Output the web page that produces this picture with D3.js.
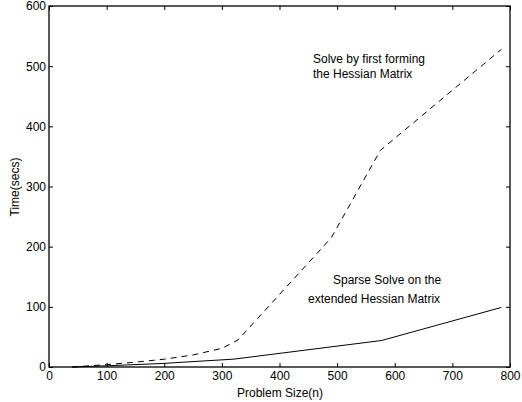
<!DOCTYPE html>
<html lang="en">
  <head>
    <meta charset="UTF-8" />
    <title>Solve time</title>
    <script src="https://d3js.org/d3.v7.min.js"></script>
    <style>
      body { margin: 0; background: #fff; }
      text { font-family: "Liberation Sans", Arial, Helvetica, sans-serif; font-size: 12px; fill: #000; }
    </style>
  </head>
  <body>
    <div id="graph"></div>
    <script>
      // problem size (n) and time in seconds
      var hessianN = [40, 100, 150, 200, 250, 300, 328, 490, 575, 785];
      var hessianT = [0, 4, 8, 13, 20, 31, 45, 215, 360, 528];
      var sparseN = [40, 100, 200, 250, 320, 577, 785];
      var sparseT = [0, 2, 6, 9, 13, 44, 99];
      var xTicks = [0, 100, 200, 300, 400, 500, 600, 700, 800];
      var yTicks = [0, 100, 200, 300, 400, 500, 600];

      var W = 522, H = 402;
      var margin = { top: 6, right: 12, bottom: 35, left: 49 },
        width = W - margin.left - margin.right,
        height = H - margin.top - margin.bottom;

      var svg = d3
        .select("#graph")
        .append("svg")
        .attr("width", W)
        .attr("height", H)
        .append("g")
        .attr("transform", "translate(" + margin.left + "," + margin.top + ")");

      var x = d3.scaleLinear().domain([0, 800]).range([0, width]);
      var y = d3.scaleLinear().domain([0, 600]).range([height, 0]);

      // axes with inward ticks on all four sides
      var tl = 4;
      svg.append("g")
        .attr("transform", "translate(0," + height + ")")
        .call(d3.axisBottom(x).tickValues(xTicks).tickSizeInner(-tl).tickSizeOuter(0).tickPadding(4))
        .call(function (g) { g.select(".domain").remove(); });
      svg.append("g")
        .call(d3.axisTop(x).tickValues(xTicks).tickSizeInner(-tl).tickSizeOuter(0).tickFormat(""))
        .call(function (g) { g.select(".domain").remove(); });
      svg.append("g")
        .call(d3.axisLeft(y).tickValues(yTicks).tickSizeInner(-tl).tickSizeOuter(0).tickPadding(3))
        .call(function (g) { g.select(".domain").remove(); });
      svg.append("g")
        .attr("transform", "translate(" + width + ",0)")
        .call(d3.axisRight(y).tickValues(yTicks).tickSizeInner(-tl).tickSizeOuter(0).tickFormat(""))
        .call(function (g) { g.select(".domain").remove(); });

      svg.selectAll(".tick text").style("font-size", "12px").style("font-family", null);
      svg.selectAll(".tick line").attr("stroke", "#000");

      svg.append("rect")
        .attr("width", width)
        .attr("height", height)
        .attr("fill", "none")
        .attr("stroke", "#000")
        .attr("stroke-width", 1.3);

      var line = d3.line()
        .x(function (d) { return x(d[0]); })
        .y(function (d) { return y(d[1]); });

      svg.append("path")
        .datum(d3.zip(hessianN, hessianT))
        .attr("d", line)
        .attr("fill", "none")
        .attr("stroke", "#000")
        .attr("stroke-width", 1)
        .attr("stroke-dasharray", "6,5");

      svg.append("path")
        .datum(d3.zip(sparseN, sparseT))
        .attr("d", line)
        .attr("fill", "none")
        .attr("stroke", "#000")
        .attr("stroke-width", 1);

      // annotations
      var notes = [
        { t: "Solve by first forming", x: 313, y: 63 },
        { t: "the Hessian Matrix", x: 313, y: 78 },
        { t: "Sparse Solve on the", x: 333, y: 284 },
        { t: "extended Hessian Matrix", x: 308, y: 303 }
      ];
      svg.selectAll(".note")
        .data(notes)
        .enter()
        .append("text")
        .attr("class", "note")
        .attr("x", function (d) { return d.x - margin.left; })
        .attr("y", function (d) { return d.y - margin.top; })
        .text(function (d) { return d.t; });

      svg.append("text")
        .attr("x", 280 - margin.left)
        .attr("y", height + 30)
        .attr("text-anchor", "middle")
        .text("Problem Size(n)");

      svg.append("text")
        .attr("transform", "translate(" + (19 - margin.left) + "," + (187 - margin.top) + ")rotate(-90)")
        .attr("text-anchor", "middle")
        .text("Time(secs)");
    </script>
  </body>
</html>
